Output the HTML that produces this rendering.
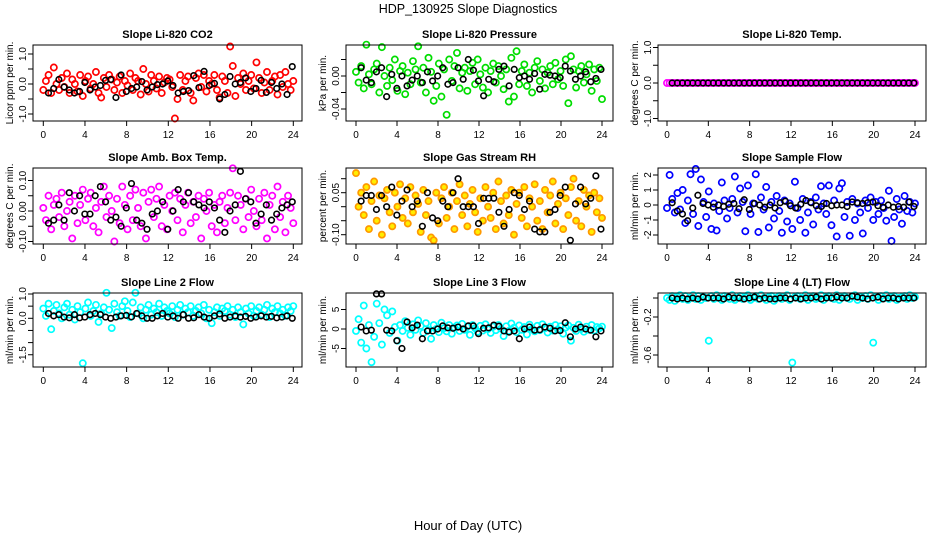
<!DOCTYPE html>
<html><head><meta charset="utf-8">
<style>
body{margin:0;background:#fff}
svg{display:block;font-family:"Liberation Sans",sans-serif}
</style></head>
<body>
<svg id="chart" width="936" height="540" viewBox="0 0 936 540" xmlns="http://www.w3.org/2000/svg">
<text x="468" y="13" text-anchor="middle" font-size="12.5">HDP_130925  Slope Diagnostics</text>
<text x="468" y="530" text-anchor="middle" font-size="13">Hour of Day (UTC)</text>
</svg>
<script>
const xTicks=[0,4,8,12,16,20,24];
const p1c=[-0.2,0.1,0.3,-0.3,0.55,0.0,-0.2,0.2,-0.1,0.35,-0.3,0.15,0.0,-0.25,0.3,-0.4,0.1,0.25,-0.15,0.0,0.4,-0.3,-0.45,0.2,-0.1,0.3,0.15,-0.2,0.05,0.25,-0.3,0.1,-0.05,0.35,-0.2,0.2,0.1,-0.35,0.5,0.0,-0.25,0.3,0.1,-0.15,0.25,-0.3,0.05,0.2,0.15,-0.1,-1.15,-0.5,0.3,-0.2,0.1,0.25,-0.3,-0.55,0.2,0.35,-0.1,0.3,-0.25,0.1,0.0,0.3,-0.2,-0.45,0.25,0.1,-0.3,1.25,0.6,-0.4,0.2,0.0,0.35,-0.2,0.1,0.3,-0.15,0.72,0.2,-0.3,0.05,0.4,-0.2,0.1,0.25,-0.35,0.3,-0.1,0.4,0.0,-0.2,0.1];
const p1k=[-0.3,-0.15,0.15,-0.1,-0.2,-0.3,-0.25,0.05,-0.2,-0.1,-0.05,0.12,0.15,-0.45,0.3,-0.25,-0.15,-0.1,0.08,-0.2,-0.1,-0.02,0.0,0.1,-0.05,-0.3,-0.25,-0.22,0.28,-0.12,0.42,-0.05,0.02,-0.5,-0.35,0.25,0.0,0.05,0.2,-0.25,-0.15,0.12,-0.28,0.05,-0.15,0.0,-0.35,0.58];
const p2c=[0.005,-0.008,0.012,-0.015,0.038,0.002,-0.01,0.008,0.015,-0.02,0.035,0.0,-0.012,0.01,-0.005,0.02,-0.018,0.006,0.012,-0.022,0.004,-0.01,0.018,0.008,0.036,-0.008,0.01,-0.02,0.022,0.005,-0.03,-0.012,0.015,-0.025,0.008,-0.047,0.02,-0.006,0.012,0.028,-0.015,0.004,0.01,-0.018,0.006,0.016,-0.01,0.02,0.002,-0.014,0.01,-0.02,0.006,0.015,-0.008,0.012,0.0,-0.016,0.008,-0.031,0.022,-0.025,0.03,-0.01,0.006,0.014,-0.012,0.004,-0.02,0.01,0.018,-0.006,0.008,-0.015,0.004,0.012,-0.01,0.016,-0.004,0.006,-0.012,0.02,-0.033,0.024,0.008,-0.014,0.006,0.012,-0.008,0.002,0.014,-0.018,0.008,-0.006,0.01,-0.028];
const p2k=[0.01,-0.005,-0.008,0.005,0.01,-0.025,0.002,-0.015,0.0,-0.012,-0.005,0.0,-0.008,0.005,-0.006,0.0,0.01,-0.01,-0.008,0.01,-0.004,0.02,0.007,-0.006,-0.024,-0.004,-0.007,0.008,0.012,-0.012,0.008,-0.002,0.0,-0.004,0.003,-0.016,0.002,0.001,0.0,-0.002,0.012,0.006,-0.004,0.0,0.005,-0.007,-0.003,0.008];
const p3c=[0,0,0,0,0,0,0,0,0,0,0,0,0,0,0,0,0,0,0,0,0,0,0,0,0,0,0,0,0,0,0,0,0,0,0,0,0,0,0,0,0,0,0,0,0,0,0,0,0,0,0,0,0,0,0,0,0,0,0,0,0,0,0,0,0,0,0,0,0,0,0,0,0,0,0,0,0,0,0,0,0,0,0,0,0,0,0,0,0,0,0,0,0,0,0,0];
const p3k=[0,0,0,0,0,0,0,0,0,0,0,0,0,0,0,0,0,0,0,0,0,0,0,0,0,0,0,0,0,0,0,0,0,0,0,0,0,0,0,0,0,0,0,0,0,0,0,0];
const p4c=[0.01,-0.03,0.05,-0.06,0.02,0.04,-0.02,0.06,-0.05,0.0,0.03,-0.09,0.05,-0.04,0.02,0.07,-0.03,0.04,0.06,-0.05,0.01,-0.07,0.03,0.08,-0.02,0.05,0.0,-0.1,0.04,-0.04,0.08,0.02,-0.06,0.05,-0.03,0.07,0.01,-0.05,0.06,-0.09,0.03,0.07,-0.02,0.04,0.08,-0.05,0.02,-0.06,0.05,0.0,0.06,-0.03,0.04,-0.07,0.02,0.06,-0.04,0.03,-0.02,0.05,-0.09,0.04,0.0,0.06,-0.05,0.02,-0.07,0.03,0.05,-0.04,0.01,0.06,0.14,-0.03,0.05,0.02,-0.06,0.04,-0.02,0.07,0.0,-0.05,0.04,-0.03,0.06,-0.09,0.02,0.05,-0.06,0.08,-0.02,0.03,-0.07,0.05,0.01,-0.04];
const p4k=[-0.04,-0.03,0.02,-0.03,0.06,0.0,0.05,-0.01,-0.01,0.05,0.08,0.03,-0.03,-0.02,-0.05,0.01,0.09,-0.03,-0.04,-0.06,-0.01,0.0,0.03,-0.06,0.0,0.07,0.03,0.06,0.03,0.02,0.01,0.03,0.01,-0.03,-0.07,0.0,0.02,0.13,0.04,0.03,-0.04,-0.01,0.02,-0.03,-0.01,0.01,0.02,0.03];
const p5c=[0.12,0.0,0.05,-0.03,0.07,-0.08,0.02,0.09,-0.05,0.04,-0.1,0.03,0.06,-0.02,-0.07,0.05,0.0,0.08,-0.04,0.03,-0.06,0.07,-0.02,0.04,0.01,-0.09,0.06,-0.03,0.02,-0.11,-0.12,0.05,-0.06,0.03,0.07,-0.04,0.0,0.05,-0.08,0.02,0.08,-0.03,0.04,-0.07,0.01,0.06,-0.02,-0.09,0.03,-0.05,0.07,0.0,-0.04,0.05,-0.08,0.09,0.02,-0.06,0.04,-0.03,0.06,-0.1,0.01,0.05,-0.04,0.07,-0.07,0.03,0.0,0.08,-0.05,0.02,-0.08,0.06,-0.02,0.04,0.09,-0.06,0.01,0.05,-0.08,0.03,-0.03,0.07,0.1,-0.05,0.02,-0.07,0.06,0.0,0.04,-0.09,0.05,-0.02,0.03,-0.04];
const p5k=[0.02,0.04,0.04,-0.01,0.04,0.0,0.07,-0.03,0.02,0.06,0.0,0.02,-0.07,0.05,-0.04,-0.05,0.02,0.0,0.05,0.1,0.0,0.0,0.0,-0.06,0.03,0.03,0.03,-0.02,-0.07,-0.01,0.05,0.04,-0.01,0.02,-0.08,-0.09,-0.09,-0.02,-0.01,0.04,0.07,-0.12,0.01,0.07,0.01,0.03,0.11,-0.08];
const p6c=[-0.2,2.0,0.4,-0.5,0.8,-0.3,1.0,-1.2,0.3,2.05,-0.6,2.4,-1.4,1.7,0.2,-0.8,0.9,-1.6,0.1,-1.7,-0.4,1.5,0.3,-0.9,-0.2,0.4,1.9,-0.5,1.1,0.2,-1.75,1.3,-0.6,0.1,2.05,-1.8,0.5,-0.3,1.2,-1.5,0.2,-0.9,0.6,-0.4,-1.85,0.3,-1.1,0.1,-1.6,1.55,-0.2,-1.0,0.4,-1.85,-0.5,0.2,-1.3,0.5,-0.3,1.25,0.1,-0.6,1.3,-1.35,0.3,-2.1,1.1,1.45,-0.8,0.2,-2.05,0.4,-1.0,0.1,-0.5,-1.9,0.3,-0.2,0.5,-1.0,0.2,-0.6,0.3,-0.2,-1.05,0.95,-2.4,-0.8,0.4,-0.3,-1.25,0.6,-0.4,0.2,-0.5,0.1];
const p6k=[0.15,-0.4,-0.6,-1.05,-0.2,0.65,0.1,0.0,-0.15,0.0,-0.1,0.05,0.1,-0.25,0.35,-0.3,0.1,0.0,-0.15,0.0,-0.2,0.15,0.25,-0.05,-0.2,0.05,0.3,0.15,-0.05,-0.1,0.1,-0.05,0.0,0.0,-0.1,0.2,0.15,0.1,0.15,0.2,-0.05,-0.15,0.0,-0.15,-0.1,-0.15,0.2,-0.1];
const p7c=[0.4,0.1,0.6,-0.45,0.3,0.55,0.2,0.0,0.45,0.6,0.15,0.35,-0.05,0.5,0.25,-1.85,0.4,0.65,0.1,0.3,0.55,-0.15,0.2,0.45,1.05,0.35,-0.4,0.6,0.25,0.1,0.5,0.7,0.3,0.05,0.65,1.05,0.2,0.45,0.0,0.35,0.55,0.15,0.4,0.25,0.6,0.1,0.45,0.3,0.2,0.5,0.05,0.35,0.55,0.15,0.4,0.25,0.5,0.1,0.3,0.45,0.2,0.55,0.0,0.35,-0.2,0.25,0.45,0.1,0.4,0.3,0.5,0.15,0.35,0.05,0.45,0.25,-0.25,0.4,0.2,0.5,0.1,0.3,0.45,0.15,0.35,0.55,0.05,0.4,0.25,0.5,0.2,0.35,0.1,0.45,0.3,0.5];
const p7k=[0.2,0.1,0.15,0.05,0.02,0.15,0.02,0.05,0.15,0.2,0.15,0.05,0.0,0.05,0.1,0.12,0.06,0.2,0.1,0.0,0.0,0.1,0.2,0.05,0.1,0.0,0.15,0.0,0.02,0.15,0.05,0.0,0.1,0.18,0.0,0.05,0.1,0.05,0.08,0.0,0.05,0.1,0.05,0.08,0.02,0.05,0.1,0.0];
const p8c=[-0.5,2.5,-3.5,6.0,-5.0,1.0,-8.5,-2.0,6.5,1.5,-4.0,5.0,3.5,-1.0,4.5,0.5,-3.0,1.0,-0.5,2.0,0.3,-1.5,1.2,-0.2,2.2,0.8,-1.0,1.5,-0.3,-2.5,1.0,0.0,-0.8,1.6,0.2,-0.6,1.0,-1.2,0.4,0.9,-0.5,1.3,-0.2,0.6,-1.5,1.0,0.2,-0.7,0.8,-0.4,1.2,0.0,-1.0,0.6,-0.3,1.0,0.1,-1.8,0.7,-0.5,1.4,0.3,-0.8,0.9,-0.2,0.5,-1.4,1.1,0.0,-0.6,0.8,-0.3,1.2,0.2,-0.9,0.6,-0.4,1.0,-0.1,0.7,-1.2,0.4,0.9,-3.0,0.3,-0.5,1.1,0.0,-0.7,0.6,-0.2,1.0,-0.4,0.5,0.2,0.6];
const p8k=[0.5,-0.5,-0.3,9.0,9.0,-0.3,-0.5,-3.0,-5.0,1.8,0.3,1.0,-2.5,-0.5,-0.5,0.0,0.8,0.3,0.2,0.5,0.0,0.8,0.8,-1.2,0.2,0.3,1.0,0.7,-0.5,-0.8,-0.5,-2.5,0.0,0.5,-0.3,-0.2,0.5,0.2,-0.5,-0.4,1.6,-2.0,0.0,0.5,0.0,-0.3,-2.0,-0.5];
const p9c=[0.0,-0.02,0.02,-0.03,0.01,0.03,-0.01,0.02,-0.02,0.0,0.03,-0.01,0.02,-0.02,0.01,0.0,-0.45,0.02,-0.01,0.03,0.0,-0.02,0.02,0.01,-0.01,0.03,-0.02,0.0,0.02,-0.01,0.01,0.03,-0.02,0.0,0.02,-0.01,0.03,0.0,-0.02,0.01,0.02,-0.03,0.0,0.02,-0.01,0.01,0.03,-0.02,-0.68,0.01,0.02,-0.01,0.0,0.03,-0.02,0.01,0.02,-0.01,0.0,0.03,-0.02,0.01,0.02,0.0,-0.01,0.03,-0.02,0.01,0.02,0.0,-0.01,0.02,0.03,-0.02,0.01,0.0,0.02,-0.01,0.03,-0.47,0.01,-0.02,0.02,0.0,0.03,-0.01,0.01,0.02,-0.02,0.0,0.01,0.02,-0.01,0.03,0.0,0.01];
const p9k=[0.0,-0.01,0.0,-0.01,0.0,-0.01,0.01,0.0,0.0,0.0,-0.01,0.01,0.0,0.0,-0.01,0.0,0.01,-0.01,0.0,-0.01,-0.01,0.0,0.0,-0.01,0.0,-0.01,0.0,0.0,0.01,-0.01,0.0,0.0,0.01,0.0,0.0,0.02,0.01,0.0,-0.01,0.0,0.01,-0.01,0.0,0.0,-0.01,0.0,0.0,0.0];
const titles=["Slope Li-820 CO2","Slope Li-820 Pressure","Slope Li-820 Temp.","Slope Amb. Box Temp.","Slope Gas Stream RH","Slope Sample Flow","Slope Line 2 Flow","Slope Line 3 Flow","Slope Line 4 (LT) Flow"];
const yTitles=["Licor ppm per min.","kPa per min.","degrees C per min.","degrees C per min.","percent per min.","ml/min per min.","ml/min per min.","ml/min per min.","ml/min per min."];
const yTickVals=[[1,0.5,0,-0.5,-1],[0.02,0,-0.02,-0.04],[1,0.5,0,-0.5,-1],[0.1,0.05,0,-0.05,-0.1],[0.1,0.05,0,-0.05,-0.1],[2,1,0,-1,-2],[1,0.5,0,-0.5,-1,-1.5],[5,0,-5],[0,-0.2,-0.4,-0.6]];
const yTickLabels=[["1.0","","0.0","","-1.0"],["","0.00","","-0.04"],["1.0","","0.0","","-1.0"],["0.10","","0.00","","-0.10"],["","0.05","","","-0.10"],["2","1","0","-1","-2"],["1.0","","0.0","","","-1.5"],["5","0","-5"],["","-0.2","","-0.6"]];
const colored=[p1c,p2c,p3c,p4c,p5c,p6c,p7c,p8c,p9c];
const black=[p1k,p2k,p3k,p4k,p5k,p6k,p7k,p8k,p9k];

const NS="http://www.w3.org/2000/svg";
const svg=document.getElementById('chart');
const colL=[33,346,658],colR=[302,613,926],x0=[43.3,356,667],x24=[293.3,602,915];
const rowT=[45,168,293],rowB=[121,244,367];
const yZero=[84,76,83,211,206.7,205,318.3,329,298];
const yPpu=[30,825,35.5,305,280,15,24.3,3.9,95];
const stroke=["#ff0000","#00dd00","#ff00ff","#ff00ff","#ff9900","#0000ff","#00ffff","#00ffff","#00ffff"];
const fill=["none","none","none","none","#ffee00","none","none","none","none"];
function mk(tag,attrs,parent){const e=document.createElementNS(NS,tag);for(const k in attrs)e.setAttribute(k,attrs[k]);(parent||svg).appendChild(e);return e;}
for(let p=0;p<9;p++){
  const c=p%3,r=Math.floor(p/3);
  const g=mk('g',{});
  
  
  const xs=h=>x0[c]+(x24[c]-x0[c])*h/24;
  const ys=v=>yZero[p]-yPpu[p]*v;
  const cx=(colL[c]+colR[c])/2,cy=(rowT[r]+rowB[r])/2;
  const t=mk('text',{x:cx,y:rowT[r]-7,'text-anchor':'middle','font-size':'11','font-weight':'bold'},g);
  t.textContent=titles[p];
  
  
  const yt=mk('text',{x:0,y:0,'text-anchor':'middle','font-size':'10',transform:`translate(${colL[c]-20},${cy}) rotate(-90)`},g);
  yt.textContent=yTitles[p];
  
  
  const cs=colored[p];
  cs.forEach((v,i)=>{const h=i*24/(cs.length-1);
    const ci=mk('circle',{cx:xs(h),cy:ys(v),r:3.1,fill:fill[p],stroke:stroke[p],'stroke-width':1.7},g);
    
    });
  const ks=black[p];
  ks.forEach((v,i)=>{const h=0.5+i*23.4/(ks.length-1);
    const ci=mk('circle',{cx:xs(h),cy:ys(v),r:2.8,fill:'none',stroke:'#000','stroke-width':1.6},g);
    
    });
  const box=mk('rect',{x:colL[c],y:rowT[r],width:colR[c]-colL[c],height:rowB[r]-rowT[r],fill:'none',stroke:'#000','stroke-width':1},g);
  
  
  xTicks.forEach(h=>{
    mk('line',{x1:xs(h),x2:xs(h),y1:rowB[r],y2:rowB[r]+5,stroke:'#000'},g);
    const l=mk('text',{x:xs(h),y:rowB[r]+17,'text-anchor':'middle','font-size':'10'},g);
    l.textContent=h;
    
    });
  const tv=yTickVals[p];
  tv.forEach((v,i)=>{
    mk('line',{x1:colL[c]-5,x2:colL[c],y1:ys(v),y2:ys(v),stroke:'#000'},g);
    if(yTickLabels[p][i]){
      const l=mk('text',{x:0,y:0,'text-anchor':'middle','font-size':'10',transform:`translate(${colL[c]-7},${ys(v)}) rotate(-90)`},g);
      l.textContent=yTickLabels[p][i];
      
      }
  });
}
</script>
</body></html>
